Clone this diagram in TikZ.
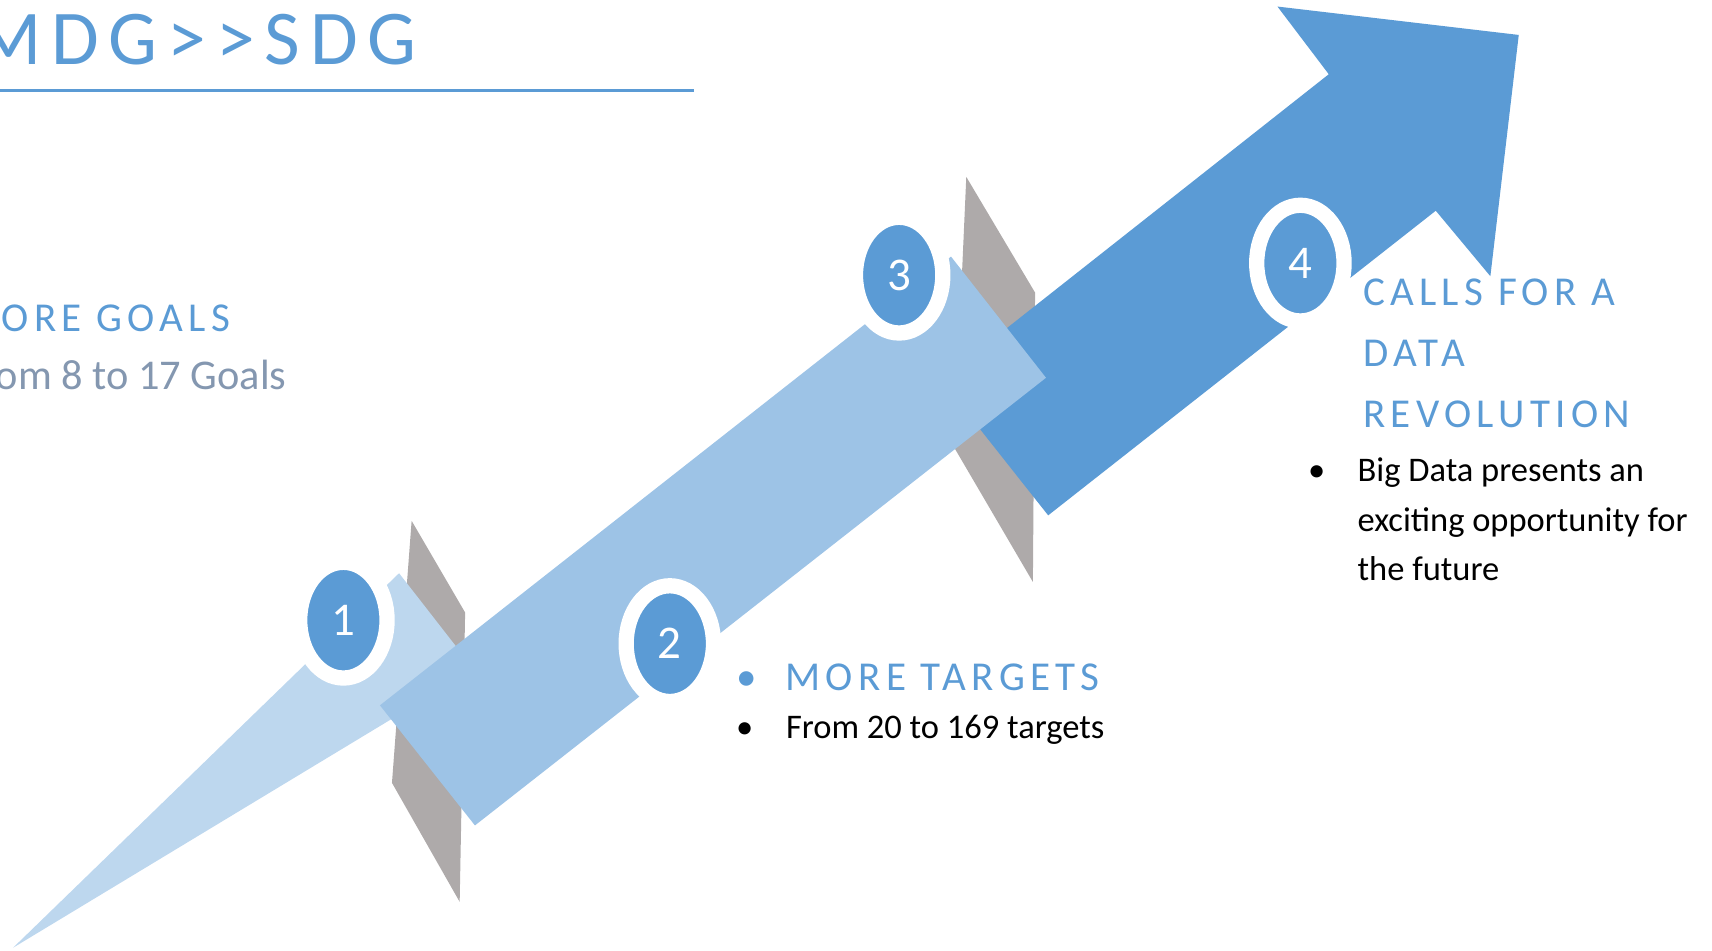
\documentclass[tikz,border=0pt]{standalone}
\usepackage{fontspec}
\setmainfont{Carlito}
\usetikzlibrary{shapes.geometric}
\definecolor{acc}{HTML}{5B9BD5}
\definecolor{accm}{HTML}{9DC3E6}
\definecolor{accl}{HTML}{BDD7EE}
\definecolor{fold}{HTML}{AEAAAA}
\definecolor{txtg}{HTML}{8497B0}
\tikzset{
  ring/.style={ellipse,draw=white,fill=acc,line width=7pt,minimum width=40pt,minimum height=53pt,
    inner sep=0pt,text=white,font=\fontsize{21.5}{24}\selectfont},
  hd/.style={anchor=base west,inner sep=0pt,text=acc,align=left,
    font=\fontsize{18.8}{28}\selectfont\addfontfeature{LetterSpace=13}},
  bd/.style={anchor=base west,inner sep=0pt,align=left,font=\fontsize{15.8}{22.75}\selectfont},
  bl/.style={anchor=base,inner sep=0pt},
}
\begin{document}
\begin{tikzpicture}[x=0.5pt,y=-0.5pt]
\useasboundingbox (0,0) rectangle (1568,871);
% ---------------- title
\node[anchor=base west,inner sep=0pt,text=acc,
  font=\fontsize{35.5}{40}\selectfont\addfontfeature{LetterSpace=12.7}] (ttl) at (-23,59.5) {MDG>{}>SDG};
\draw[acc,line width=1.25pt] (0,83) coordinate (ul) -- (636,83) coordinate (ur);
% ---------------- step 1: the tail
\fill[fold] (377,477) -- (426,561) -- (421,826) -- (359,717) -- cycle;
\fill[accl] (12,868) -- (365.5,525) -- (434,613) -- cycle;
\node[ring] (n1) at (314.5,568) {1};
% ---------------- steps 3 and 4: the head
\fill[fold] (885,162) -- (948,268) -- (946,533) -- (874,410) -- cycle;
\fill[acc] (862,348) -- (1217,68) -- (1170,6) -- (1391,32) -- (1365,253)
  -- (1315,193) -- (960,472) -- cycle;
% ---------------- step 2: the middle band
\fill[accm] (348,646) -- (871,235) -- (958,346) -- (435,756) -- cycle;
\node[ring] (n2) at (613.5,589.5) {2};
\node[ring] (n3) at (823.5,252) {3};
\node[ring] (n4) at (1191,241) {4};
% ---------------- texts (a node with lines sits on its last baseline)
\node[hd] (gl) at (-36,304) {MORE GOALS};
\node[bd,text=txtg,font=\fontsize{19.4}{24}\selectfont] (gls) at (-35,357) {From 8 to 17 Goals};
\node[bl,text=acc,font=\fontsize{18.8}{24}\selectfont] (tgb) at (684,632) {•};
\node[hd] (tg) at (719,632) {MORE TARGETS};
\node[bl,font=\fontsize{15.8}{20}\selectfont] (tgsb) at (682,676) {•};
\node[bd] (tgs) at (719.5,676) {From 20 to 169 targets};
\node[hd] (dr) at (1248,391.5) {CALLS FOR A\\DATA\\REVOLUTION};
\node[bl,font=\fontsize{15.8}{20}\selectfont] (drsb) at (1206,441) {•};
\node[bd] (drs) at (1243,532) {Big Data presents an\\exciting opportunity for\\the future};
\end{tikzpicture}
\end{document}
